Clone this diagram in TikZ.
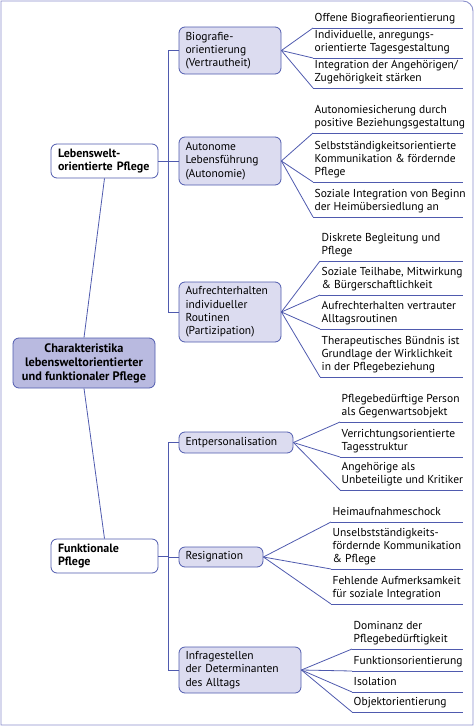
\documentclass[tikz,border=0pt]{standalone}
\usepackage{fontspec}
\setmainfont{PT Sans}
\definecolor{edge}{HTML}{4F5AAE}
\definecolor{frm}{HTML}{8A8FCB}
\definecolor{rootfill}{HTML}{B9BAE0}
\definecolor{boxfill}{HTML}{DCDCF0}
\begin{document}
\begin{tikzpicture}[x=1pt,y=-1pt,
  font=\fontsize{11.5}{13.3}\selectfont,
  conn/.style={draw=edge, line width=0.8pt},
  catbox/.style={draw=edge, line width=0.8pt, rounded corners=6pt, fill=boxfill,
    align=left, inner xsep=6.5pt, inner ysep=0pt, anchor=center,
    execute at begin node={\hyphenpenalty=10000\exhyphenpenalty=10000}},
  mainbox/.style={draw=edge, line width=0.8pt, rounded corners=6pt, fill=white,
    align=left, inner xsep=7pt, inner ysep=0pt, anchor=center,
    font=\fontsize{12}{13.3}\selectfont\bfseries,
    execute at begin node={\hyphenpenalty=10000\exhyphenpenalty=10000}},
  rootbox/.style={draw=edge, line width=0.8pt, rounded corners=6pt, fill=rootfill,
    align=center, inner xsep=4pt, inner ysep=0pt, anchor=center,
    font=\fontsize{12.3}{14}\selectfont\bfseries},
  leaf/.style={anchor=south west, align=left, inner xsep=1.5pt, inner ysep=2.2pt,
    execute at begin node=\strut, execute at end node=\strut},
  uline/.style={draw=edge, line width=0.8pt}
]
\useasboundingbox (0,0) rectangle (475,726);
% frame
\draw[frm, line width=0.9pt] (1,725) -- (1,1) -- (463,1) .. controls (468.5,1) and (473,5.5) .. (473,11) -- (473,725) -- cycle;
\coordinate (rx) at (463,0);

% root and main nodes
\node[rootbox, minimum width=142pt, minimum height=50pt] (root) at (84,363)
  {Charakteristika\\lebensweltorientierter\\und funktionaler Pflege};
\node[mainbox, text width=93pt, minimum height=34pt] (leb) at (104.5,161)
  {Lebenswelt-\\orientierte Pflege};
\node[mainbox, text width=93pt, minimum height=34pt] (fun) at (104.5,556)
  {Funktionale\\Pflege};

% category nodes
\node[catbox, text width=89pt, minimum height=47pt] (bio) at (230,50.5)
  {Biografie-\\orientierung\\(Vertrautheit)};
\node[catbox, text width=89pt, minimum height=48pt] (aut) at (230,161)
  {Autonome\\Lebensführung\\(Autonomie)};
\node[catbox, text width=89pt, minimum height=60pt] (auf) at (230,312)
  {Aufrechterhalten\\individueller\\Routinen\\(Partizipation)};
\node[catbox, text width=101pt, minimum height=21pt] (ent) at (236,442.5)
  {Entpersonalisation};
\node[catbox, text width=71pt, minimum height=20pt] (res) at (221,557)
  {Resignation};
\node[catbox, text width=109pt, minimum height=46pt] (inf) at (240,670)
  {Infragestellen\\der Determinanten\\des Alltags};

% main connectors
\draw[conn] (root.north) -- (leb.south);
\draw[conn] (root.south) -- (fun.north);
\draw[conn] (leb.east) -- ++(10,0) coordinate (lj);
\draw[conn] (lj) |- (bio.west);
\draw[conn] (lj) |- (aut.west);
\draw[conn] (lj) |- (auf.west);
\draw[conn] (fun.east) -- ++(10,0) coordinate (fj);
\draw[conn] (fj) |- (ent.west);
\draw[conn] (fj) |- (res.west);
\draw[conn] (fj) |- (inf.west);

% leaves: Biografie
\node[leaf] (b1) at (313,28) {Offene Biografieorientierung};
\node[leaf] (b2) at (313,58) {Individuelle, anregungs-\\orientierte Tagesgestaltung};
\node[leaf] (b3) at (313,88) {Integration der Angehörigen/\\Zugehörigkeit stärken};
% Autonome
\node[leaf] (a1) at (313,133) {Autonomiesicherung durch\\positive Beziehungsgestaltung};
\node[leaf] (a2) at (313,182) {Selbstständigkeitsorientierte\\Kommunikation \& fördernde\\Pflege};
\node[leaf] (a3) at (313,217) {Soziale Integration von Beginn\\der Heimübersiedlung an};
% Aufrechterhalten
\node[leaf] (r1) at (320,261) {Diskrete Begleitung und\\Pflege};
\node[leaf] (r2) at (320,295) {Soziale Teilhabe, Mitwirkung\\\& Bürgerschaftlichkeit};
\node[leaf] (r3) at (320,329) {Aufrechterhalten vertrauter\\Alltagsroutinen};
\node[leaf] (r4) at (320,377) {Therapeutisches Bündnis ist\\Grundlage der Wirklichkeit\\in der Pflegebeziehung};
% Entpersonalisation
\node[leaf] (e1) at (340,422) {Pflegebedürftige Person\\als Gegenwartsobjekt};
\node[leaf] (e2) at (340,457) {Verrichtungsorientierte\\Tagesstruktur};
\node[leaf] (e3) at (340,490) {Angehörige als\\Unbeteiligte und Kritiker};
% Resignation
\node[leaf] (s1) at (331,522) {Heimaufnahmeschock};
\node[leaf] (s2) at (331,569) {Unselbstständigkeits-\\fördernde Kommunikation\\\& Pflege};
\node[leaf] (s3) at (331,604) {Fehlende Aufmerksamkeit\\für soziale Integration};
% Infragestellen
\node[leaf] (i1) at (352,649) {Dominanz der\\Pflegebedürftigkeit};
\node[leaf] (i2) at (352,671) {Funktionsorientierung};
\node[leaf] (i3) at (352,692) {Isolation};
\node[leaf] (i4) at (352,712) {Objektorientierung};

% underlines and fan connectors
\foreach \p/\ls in {bio/{b1,b2,b3}, aut/{a1,a2,a3}, auf/{r1,r2,r3,r4}, ent/{e1,e2,e3}, res/{s1,s2,s3}, inf/{i1,i2,i3,i4}}{
  \foreach \l in \ls {
    \draw[uline] (\l.south west) -- (\l.south west -| rx);
    \draw[conn] (\p.east) -- (\l.south west);
  }
}
\end{tikzpicture}
\end{document}
